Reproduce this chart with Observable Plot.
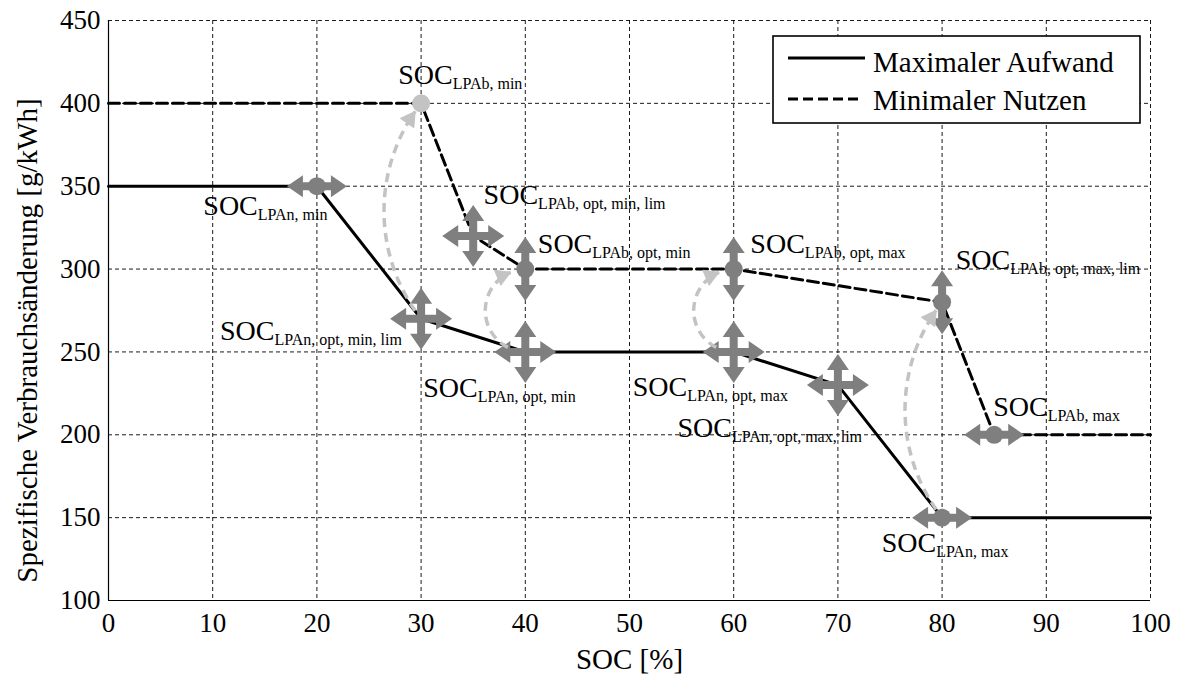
<!DOCTYPE html>
<html><head><meta charset="utf-8">
<script src="https://cdn.jsdelivr.net/npm/d3@7"></script>
<script src="https://cdn.jsdelivr.net/npm/@observablehq/plot@0.6"></script>
<style>
body{margin:0;background:#fff;}
#wrap{position:relative;width:1184px;height:675px;background:#fff;}
</style></head><body><div id="wrap"></div>
<script>
// ---- data ----
const xTicks = [0,10,20,30,40,50,60,70,80,90,100];
const yTicks = [100,150,200,250,300,350,400,450];
const xLabel = "SOC [%]";
const yLabel = "Spezifische Verbrauchsänderung [g/kWh]";
const seriesNames = ["Maximaler Aufwand", "Minimaler Nutzen"];

const socAufwand = [0,20,30,40,60,70,80,100];
const aufwand    = [350,350,270,250,250,230,150,150];
const socNutzen  = [0,30,35,40,60,80,85,100];
const nutzen     = [400,400,320,300,300,280,200,200];

// operating-point markers
const markerSoc  = [20,30,35,40,40,60,60,70,80,85,80];
const markerVal  = [350,270,320,300,250,300,250,230,280,200,150];
const markerKind = ["h","cross","cross","v","cross","v","cross","cross","v","h","h"];
const markerDot  = [true,false,false,true,false,true,false,false,true,true,true];
const lightSoc = [30];
const lightVal = [400];

// light grey shift arrows
const shiftFromSoc = [30,40,60,80];
const shiftFromVal = [270,250,250,150];
const shiftToSoc   = [30,40,60,80];
const shiftToVal   = [400,300,300,280];
const shiftBend    = [38,88,88,38];

// annotation labels
const labelSoc = [27.8,9.1,36.0,41.2,61.6,81.3,10.7,30.2,50.3,54.6,84.9,74.2];
const labelVal = [411.4,332.9,339.0,309.4,310.0,300.3,257.5,223.1,223.7,198.4,211.6,129.0];
const labelSub = ["LPAb, min","LPAn, min","LPAb, opt, min, lim","LPAb, opt, min","LPAb, opt, max",
  "LPAb, opt, max, lim","LPAn, opt, min, lim","LPAn, opt, min","LPAn, opt, max","LPAn, opt, max, lim",
  "LPAb, max","LPAn, max"];

// ---- build ----
const FONT = '"Liberation Serif","Times New Roman",serif';
const GREY = "#7f7f7f", LIGHT = "#c3c3c3";

const lineA = socAufwand.map((s,i)=>({soc:s, val:aufwand[i]}));
const lineN = socNutzen.map((s,i)=>({soc:s, val:nutzen[i]}));
const markers = markerSoc.map((s,i)=>({soc:s, val:markerVal[i], kind:markerKind[i], dot:markerDot[i]}));
const lights = lightSoc.map((s,i)=>({soc:s, val:lightVal[i]}));
const shifts = shiftFromSoc.map((s,i)=>({x1:s, y1:shiftFromVal[i], x2:shiftToSoc[i], y2:shiftToVal[i], bend:shiftBend[i]}));
const labels = labelSoc.map((s,i)=>({soc:s, val:labelVal[i], sub:labelSub[i]}));

const ARM = {head:16, half:11, shaft:4};
function arrowPoly(R){
  const {head,half,shaft} = ARM;
  return [[-R,0],[-R+head,-half],[-R+head,-shaft],[R-head,-shaft],[R-head,-half],[R,0],
          [R-head,half],[R-head,shaft],[-R+head,shaft],[-R+head,half]];
}
function drawPoly(ctx, pts){
  ctx.moveTo(pts[0][0], pts[0][1]);
  for (let k=1;k<pts.length;k++) ctx.lineTo(pts[k][0], pts[k][1]);
  ctx.closePath();
}
const rot = pts => pts.map(([a,b])=>[-b,a]);
const symH = {draw(ctx,size){ const R=Math.sqrt(size/Math.PI); drawPoly(ctx, arrowPoly(R)); }};
const symV = {draw(ctx,size){ const R=Math.sqrt(size/Math.PI); drawPoly(ctx, rot(arrowPoly(R))); }};
const symX = {draw(ctx,size){ const R=Math.sqrt(size/Math.PI); drawPoly(ctx, arrowPoly(R)); drawPoly(ctx, rot(arrowPoly(R))); }};

const arrowOpts = (bend, inS, inE) => ({x1:"x1", y1:"y1", x2:"x2", y2:"y2", bend,
  stroke:LIGHT, strokeWidth:3.5, strokeDasharray:"9,6", strokeLinecap:"butt",
  headLength:7, insetStart:inS, insetEnd:inE});

const plot = Plot.plot({
  width:1184, height:675,
  marginLeft:108, marginRight:34, marginTop:20, marginBottom:75,
  style:{fontFamily:FONT, fontSize:"27px", color:"#000", background:"#fff", overflow:"visible"},
  x:{domain:[0,100], ticks:xTicks, tickSize:0, tickPadding:12, label:null},
  y:{domain:[100,450], ticks:yTicks, tickSize:0, tickPadding:8, label:null},
  marks:[
    Plot.ruleX(xTicks, {stroke:"#000", strokeWidth:0.9, strokeDasharray:"4,3"}),
    Plot.ruleY(yTicks, {stroke:"#000", strokeWidth:0.9, strokeDasharray:"4,3"}),
    Plot.ruleX([0], {stroke:"#000", strokeWidth:1.2}),
    Plot.ruleY([100], {stroke:"#000", strokeWidth:1.2}),
    Plot.line(lineA, {x:"soc", y:"val", stroke:"#000", strokeWidth:3}),
    Plot.line(lineN, {x:"soc", y:"val", stroke:"#000", strokeWidth:3, strokeDasharray:"11,5"}),
    Plot.dot(markers.filter(d=>d.kind==="cross"), {x:"soc", y:"val", symbol:symX, r:31, fill:GREY, stroke:"none"}),
    Plot.dot(markers.filter(d=>d.kind==="h"), {x:"soc", y:"val", symbol:symH, r:30, fill:GREY, stroke:"none"}),
    Plot.dot(markers.filter(d=>d.kind==="v"), {x:"soc", y:"val", symbol:symV, r:32, fill:GREY, stroke:"none"}),
    Plot.dot(markers.filter(d=>d.dot), {x:"soc", y:"val", r:9, fill:GREY, stroke:"none"}),
    Plot.dot(lights, {x:"soc", y:"val", r:9, fill:LIGHT, stroke:"none"}),
    Plot.arrow(shifts.filter(d=>d.bend===88), arrowOpts(88, 18, 15)),
    Plot.arrow(shifts.filter(d=>d.bend===38), arrowOpts(38, 10, 10)),
    Plot.text(labels, {x:"soc", y:"val", text:()=>"SOC", textAnchor:"start", lineAnchor:"bottom", fontSize:28, fill:"#000"}),
    Plot.text(labels, {x:"soc", y:"val", text:"sub", textAnchor:"start", lineAnchor:"bottom", fontSize:16, dx:54.5, dy:5, fill:"#000"}),
    Plot.text([xLabel], {text:d=>d, frameAnchor:"bottom", textAnchor:"middle", lineAnchor:"bottom", dy:68, fontSize:29, fill:"#000"}),
    Plot.text([yLabel], {text:d=>d, frameAnchor:"left", textAnchor:"middle", lineAnchor:"middle", rotate:-90, dx:-81, dy:30, fontSize:29, fill:"#000"})
  ]
});

// turn arrowheads into filled triangles, keep shafts dashed
const NS = "http://www.w3.org/2000/svg";
plot.querySelectorAll('g[aria-label="arrow"] path').forEach(p => {
  const d = p.getAttribute("d"); if (!d) return;
  const k = d.lastIndexOf("M"); if (k <= 0) return;
  p.setAttribute("d", d.slice(0,k));
  const h = document.createElementNS(NS, "path");
  h.setAttribute("d", d.slice(k) + "Z");
  h.setAttribute("fill", LIGHT); h.setAttribute("stroke", LIGHT);
  h.setAttribute("stroke-width", "1"); h.setAttribute("stroke-dasharray", "none");
  p.parentNode.appendChild(h);
});

const wrap = document.getElementById("wrap");
wrap.appendChild(plot);

// legend box (inside the plot area, top right)
const leg = document.createElementNS(NS, "svg");
leg.setAttribute("width", 369); leg.setAttribute("height", 89);
leg.style.cssText = "position:absolute;left:772px;top:35px;font-family:" + FONT.replace(/"/g,"'") + ";";
const dashes = [null, "10,5"];
const lineY = [23, 64], textY = [37, 75];
let html = `<rect x="1" y="1" width="367" height="87" fill="#fff" stroke="#000" stroke-width="1.6"/>`;
seriesNames.forEach((n,i) => {
  html += `<line x1="16" x2="${dashes[i]?89:93}" y1="${lineY[i]}" y2="${lineY[i]}" stroke="#000" stroke-width="3" ${dashes[i]?`stroke-dasharray="${dashes[i]}"`:""}/>`;
  html += `<text x="101" y="${textY[i]}" font-size="29" fill="#000">${n}</text>`;
});
leg.innerHTML = html;
wrap.appendChild(leg);
</script></body></html>
